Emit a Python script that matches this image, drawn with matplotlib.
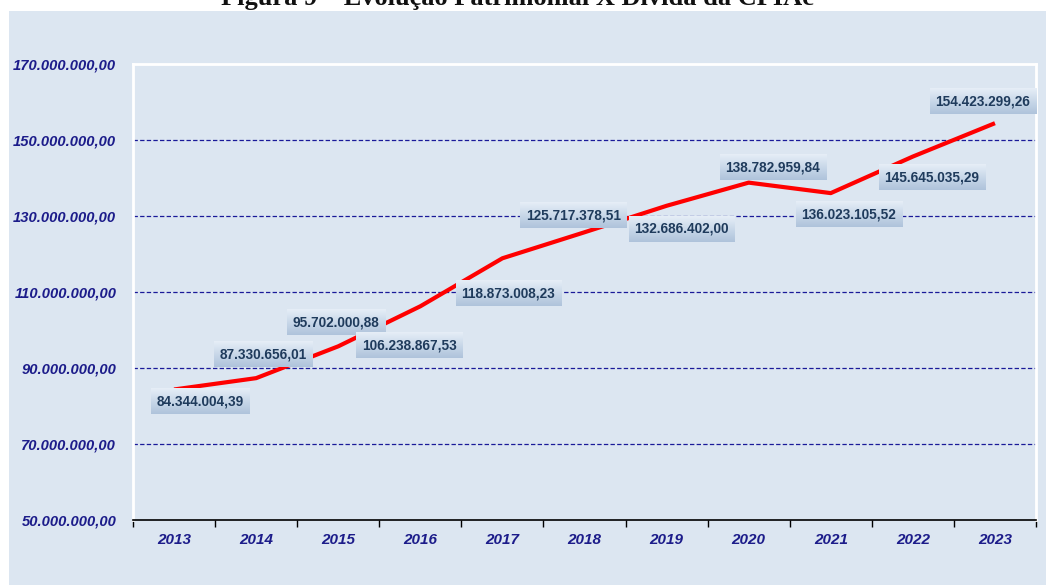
import matplotlib
matplotlib.use("Agg")
import matplotlib.pyplot as plt
import numpy as np
from matplotlib.patches import Rectangle
from matplotlib.ticker import FixedLocator
from matplotlib.colors import LinearSegmentedColormap

years = ["2013", "2014", "2015", "2016", "2017", "2018", "2019", "2020", "2021", "2022", "2023"]
values = [84344004.39, 87330656.01, 95702000.88, 106238867.53, 118873008.23, 125717378.51,
          132686402.00, 138782959.84, 136023105.52, 145645035.29, 154423299.26]
value_labels = ["84.344.004,39", "87.330.656,01", "95.702.000,88", "106.238.867,53", "118.873.008,23",
                "125.717.378,51", "132.686.402,00", "138.782.959,84", "136.023.105,52",
                "145.645.035,29", "154.423.299,26"]
y_ticks = [50e6, 70e6, 90e6, 110e6, 130e6, 150e6, 170e6]
y_tick_labels = ["50.000.000,00", "70.000.000,00", "90.000.000,00", "110.000.000,00",
                 "130.000.000,00", "150.000.000,00", "170.000.000,00"]
title = "Figura 9 – Evolução Patrimonial X Dívida da CPIAc"

# label offsets in pixels (dx, dy) relative to the point, y up
label_offsets_px = [(26, -12), (7, 24), (-2, 24), (-11, -39), (6, -35), (-11, 17),
                    (15, -23), (24, 15), (18, -21), (19, -21), (-12, 22)]

W, H = 1046, 585
fig = plt.figure(figsize=(W / 100, H / 100), dpi=100)
fig.patch.set_facecolor("white")

bg = "#DCE6F1"
fig.patches.append(Rectangle((9 / W, 0), 1 - 9 / W, (H - 11) / H, transform=fig.transFigure,
                             facecolor=bg, edgecolor="none", zorder=-10))

fig.text(517 / W, 1 - 5 / H, title, ha="center", va="baseline", fontsize=19, fontweight="bold",
         family="Liberation Serif", color="#111111")

ax = fig.add_axes([133 / W, (H - 520) / H, (1036 - 133) / W, (520 - 64) / H])
ax.set_zorder(2)
ax.set_facecolor(bg)

x = list(range(len(years)))
ax.plot(x, values, color="#FF0000", linewidth=3.0, solid_capstyle="butt", zorder=3)

xlim = (-0.5, len(years) - 0.5)
ylim = (50e6, 170e6)
ax.set_xlim(*xlim)
ax.set_ylim(*ylim)

for yv in y_ticks[1:-1]:
    ax.axhline(yv, color="#1A1A99", linewidth=0.9, linestyle=(0, (3.5, 1.8)), zorder=1)

ax.yaxis.set_major_locator(FixedLocator(y_ticks))
ax.set_yticklabels(y_tick_labels)
ax.tick_params(axis="y", length=0, pad=12)
for t in ax.get_yticklabels():
    t.set_fontfamily("Liberation Sans")
    t.set_fontweight("bold")
    t.set_fontstyle("italic")
    t.set_fontsize(10.6)
    t.set_color("#1C1C8A")

ax.set_xticks([i - 0.5 for i in range(len(years) + 1)])
ax.set_xticklabels([])
ax.set_xticks(x, minor=True)
ax.set_xticklabels(years, minor=True)
ax.tick_params(axis="x", which="major", length=5, width=1, color="black", direction="out")
ax.tick_params(axis="x", which="minor", length=0, pad=9)
for t in ax.get_xticklabels(minor=True):
    t.set_fontfamily("Liberation Sans")
    t.set_fontweight("bold")
    t.set_fontstyle("italic")
    t.set_fontsize(11)
    t.set_color("#1C1C8A")

for side in ["left", "top", "right"]:
    ax.spines[side].set_color("white")
    ax.spines[side].set_linewidth(2)
ax.spines["bottom"].set_color("black")
ax.spines["bottom"].set_linewidth(1.2)

anns = []
for xi, v, lab, (dx, dy) in zip(x, values, value_labels, label_offsets_px):
    a = ax.annotate(lab, (xi, v), xytext=(dx * 0.72, dy * 0.72), textcoords="offset points",
                    ha="center", va="center", fontsize=9.8, fontweight="bold",
                    family="Liberation Sans", color="#1F3B5C", zorder=6,
                    bbox=dict(boxstyle="square,pad=0.42", facecolor="none", edgecolor="none"))
    anns.append(a)

# gradient boxes behind the labels
fig.canvas.draw()
cmap = LinearSegmentedColormap.from_list("box", ["#AFC3DB", "#C9D8E9", "#E6EEF7"])
grad = np.linspace(0, 1, 64).reshape(-1, 1)
inv = ax.transData.inverted()
for a in anns:
    bb = a.get_bbox_patch().get_window_extent()
    (x0, y0), (x1, y1) = inv.transform([(bb.x0, bb.y0), (bb.x1, bb.y1)])
    ax.imshow(grad, cmap=cmap, extent=(x0, x1, y0, y1), origin="lower", aspect="auto",
              zorder=5, interpolation="bilinear")
ax.set_xlim(*xlim)
ax.set_ylim(*ylim)

fig.savefig("out.png", dpi=100, facecolor=fig.get_facecolor())
